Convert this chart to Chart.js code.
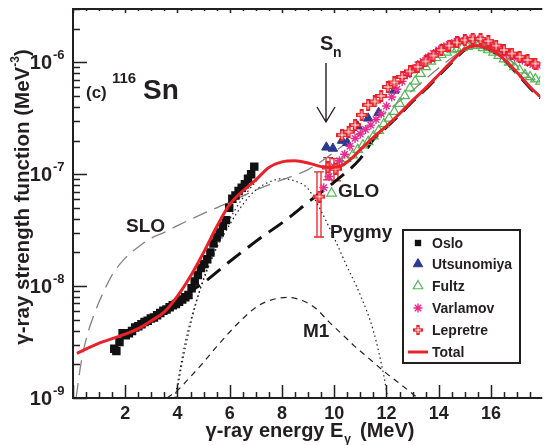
<!DOCTYPE html>
<html>
  <head>
    <title>116Sn gamma-ray strength function</title>
    <script src="https://cdn.jsdelivr.net/npm/chart.js@4.4.1/dist/chart.umd.min.js"></script>
    <style>
      body { margin: 0; background: #fff; }
    </style>
  </head>
  <body>
    <canvas id="canvas" width="547" height="445"></canvas>
    <script>
      // --- data (E in MeV, f in MeV^-3) ---
      const osloE = [1.58, 1.66, 1.78, 1.90, 2.02, 2.14, 2.26, 2.38, 2.50, 2.62, 2.74, 2.86, 2.98, 3.10, 3.22, 3.34,
        3.46, 3.58, 3.70, 3.82, 3.94, 4.06, 4.18, 4.30, 4.42, 4.54, 4.66, 4.78, 4.90, 5.02, 5.14, 5.26, 5.38, 5.50,
        5.62, 5.74, 5.86, 5.98, 6.10, 6.22, 6.34, 6.46, 6.58, 6.70, 6.82, 6.94];
      const osloF = [2.75e-9, 2.63e-9, 3.16e-9, 3.80e-9, 3.63e-9, 3.80e-9, 3.98e-9, 4.27e-9, 4.37e-9, 4.57e-9, 4.79e-9,
        4.90e-9, 5.13e-9, 5.25e-9, 5.50e-9, 5.75e-9, 6.03e-9, 6.17e-9, 6.46e-9, 6.76e-9, 6.92e-9, 7.24e-9, 7.59e-9,
        7.94e-9, 8.32e-9, 9.55e-9, 1.10e-8, 1.26e-8, 1.45e-8, 1.58e-8, 1.74e-8, 2.00e-8, 2.40e-8, 2.75e-8, 3.02e-8,
        3.47e-8, 3.89e-8, 5.01e-8, 6.03e-8, 6.46e-8, 7.08e-8, 7.59e-8, 8.13e-8, 9.12e-8, 1.00e-7, 1.17e-7];

      const utsuE = [9.7, 9.95, 10.3, 10.5, 10.9, 11.3, 11.7, 12.3];
      const utsuF = [1.74e-7, 1.70e-7, 2.00e-7, 1.91e-7, 2.69e-7, 3.16e-7, 3.55e-7, 5.62e-7];

      const fultzE = [9.9, 10.2, 10.45, 10.7, 10.9, 11.1, 11.3, 11.5, 11.7, 11.9, 12.1, 12.3, 12.5, 12.7, 12.9, 13.1,
        13.3, 13.5, 13.7, 13.9, 14.1, 14.3, 14.5, 14.7, 14.9, 15.1, 15.3, 15.5, 15.7, 15.9, 16.1, 16.3, 16.5, 16.7,
        16.9, 17.1, 17.3, 17.5, 17.7, 17.9];
      const fultzF = [6.76e-8, 1.26e-7, 1.38e-7, 1.48e-7, 1.66e-7, 1.82e-7, 1.95e-7, 2.19e-7, 2.45e-7, 2.82e-7, 3.16e-7,
        3.63e-7, 4.27e-7, 5.01e-7, 5.89e-7, 6.76e-7, 7.94e-7, 9.12e-7, 1.02e-6, 1.10e-6, 1.17e-6, 1.23e-6, 1.29e-6,
        1.32e-6, 1.35e-6, 1.38e-6, 1.41e-6, 1.41e-6, 1.35e-6, 1.29e-6, 1.23e-6, 1.15e-6, 1.07e-6, 1.00e-6, 9.12e-7,
        8.51e-7, 7.76e-7, 7.41e-7, 7.08e-7, 6.76e-7];

      const varlE = [9.6, 9.8, 10.0, 10.2, 10.4, 10.6, 10.8, 11.0, 11.2, 11.4, 11.6, 11.8, 12.0, 12.2, 12.4, 12.6, 12.8,
        13.0, 13.2, 13.4, 13.6, 13.8, 14.0, 14.2, 14.4, 14.6, 14.8, 15.0, 15.2, 15.4, 15.6, 15.8, 16.0, 16.2, 16.4,
        16.6, 16.8, 17.0, 17.2, 17.4, 17.6, 17.8];
      const varlF = [7.59e-8, 9.55e-8, 1.17e-7, 1.32e-7, 1.51e-7, 1.78e-7, 2.09e-7, 2.29e-7, 2.51e-7, 2.75e-7, 3.09e-7,
        3.47e-7, 4.07e-7, 4.90e-7, 5.75e-7, 6.76e-7, 7.76e-7, 8.71e-7, 9.55e-7, 1.02e-6, 1.12e-6, 1.20e-6, 1.29e-6,
        1.38e-6, 1.45e-6, 1.51e-6, 1.55e-6, 1.58e-6, 1.62e-6, 1.62e-6, 1.62e-6, 1.51e-6, 1.41e-6, 1.32e-6, 1.26e-6,
        1.20e-6, 1.15e-6, 1.10e-6, 1.05e-6, 1.00e-6, 9.55e-7, 9.33e-7];

      const leprE = [9.43, 9.75, 10.05, 10.3, 10.55, 10.8, 11.05, 11.3, 11.55, 11.8, 12.05, 12.3, 12.6, 12.9, 13.2, 13.5,
        13.8, 14.1, 14.4, 14.7, 15.0, 15.3, 15.6, 15.9, 16.2, 16.5, 16.8, 17.1, 17.4, 17.7];
      const leprF = [6.31e-8, 1.15e-7, 1.12e-7, 2.24e-7, 2.40e-7, 2.75e-7, 3.39e-7, 4.17e-7, 4.47e-7, 5.01e-7, 6.03e-7,
        6.61e-7, 7.41e-7, 8.32e-7, 9.12e-7, 1.02e-6, 1.15e-6, 1.29e-6, 1.41e-6, 1.51e-6, 1.58e-6, 1.62e-6, 1.62e-6,
        1.55e-6, 1.41e-6, 1.29e-6, 1.20e-6, 1.12e-6, 1.05e-6, 9.77e-7];
      // error bars only where they show
      const leprLo = [2.75e-8, 8.91e-8, 8.71e-8];
      const leprHi = [1.05e-7, 1.41e-7, 1.38e-7];

      const totalE = [0.15, 1.0, 2.0, 2.5, 3.0, 3.5, 4.0, 4.5, 5.0, 5.5, 6.0, 6.5, 7.0, 7.5, 8.0, 8.5, 9.0, 9.5, 9.9,
        10.3, 10.7, 11.0, 11.5, 12.0, 12.5, 13.0, 13.5, 14.0, 14.5, 15.0, 15.4, 16.0, 16.5, 17.0, 17.5, 17.9];
      const totalF = [2.51e-9, 3.09e-9, 3.72e-9, 4.17e-9, 4.90e-9, 5.89e-9, 8.13e-9, 1.23e-8, 2.00e-8, 3.39e-8, 5.37e-8,
        7.08e-8, 8.91e-8, 1.15e-7, 1.29e-7, 1.32e-7, 1.26e-7, 1.17e-7, 1.15e-7, 1.20e-7, 1.41e-7, 1.66e-7, 2.14e-7,
        2.69e-7, 3.47e-7, 4.57e-7, 5.89e-7, 7.76e-7, 1.02e-6, 1.32e-6, 1.41e-6, 1.30e-6, 1.07e-6, 8.13e-7, 6.03e-7,
        4.90e-7];

      const sloE = [0.12, 0.3, 0.53, 0.8, 1.0, 1.5, 2.0, 2.5, 3.0, 3.5, 4.0, 5.0, 6.0, 7.0, 8.0, 9.0, 10.0, 11.0, 12.0,
        13.0, 14.0, 15.0, 15.4, 16.0, 17.0, 17.9];
      const sloF = [1.0e-9, 2.0e-9, 3.55e-9, 5.50e-9, 7.24e-9, 1.26e-8, 1.78e-8, 2.24e-8, 2.69e-8, 3.02e-8, 3.47e-8,
        4.47e-8, 5.62e-8, 7.24e-8, 8.91e-8, 1.10e-7, 1.58e-7, 2.40e-7, 3.63e-7, 5.62e-7, 8.91e-7, 1.32e-6, 1.45e-6,
        1.35e-6, 9.33e-7, 6.03e-7];

      const gloE = [4.3, 4.87, 6.0, 7.0, 8.2, 9.0, 10.0, 11.0, 11.5, 12.0, 12.5, 13.0, 13.5, 14.0, 14.5, 15.0, 15.4,
        16.0, 16.5, 17.0, 17.5, 17.9];
      const gloF = [8.51e-9, 1.02e-8, 1.66e-8, 2.51e-8, 3.98e-8, 5.62e-8, 8.51e-8, 1.38e-7, 2.04e-7, 2.63e-7, 3.39e-7,
        4.47e-7, 5.75e-7, 7.59e-7, 1.00e-6, 1.29e-6, 1.38e-6, 1.27e-6, 1.05e-6, 7.94e-7, 5.89e-7, 4.79e-7];

      const m1E = [3.6, 4.0, 4.5, 5.0, 5.5, 6.0, 6.5, 7.0, 7.5, 8.2, 8.8, 9.3, 9.8, 10.3, 10.8, 11.3, 12.0, 12.5, 13.2];
      const m1F = [1.0e-9, 1.17e-9, 1.55e-9, 2.09e-9, 2.88e-9, 3.89e-9, 5.13e-9, 6.46e-9, 7.41e-9, 7.94e-9, 7.41e-9,
        6.31e-9, 4.79e-9, 3.72e-9, 2.88e-9, 2.29e-9, 1.66e-9, 1.35e-9, 1.0e-9];

      const pygE = [3.95, 4.05, 4.3, 4.6, 5.0, 5.5, 6.0, 6.5, 7.0, 7.5, 8.0, 8.5, 9.0, 9.5, 10.0, 10.5, 11.0, 11.5, 11.9,
        12.05];
      const pygF = [1.0e-9, 1.41e-9, 2.82e-9, 5.62e-9, 1.17e-8, 2.19e-8, 3.55e-8, 5.37e-8, 7.24e-8, 8.51e-8, 9.12e-8,
        8.71e-8, 7.41e-8, 4.68e-8, 2.69e-8, 1.48e-8, 8.32e-9, 3.98e-9, 1.58e-9, 1.0e-9];

      // second dotted curve on the low-energy side
      const dotE = [3.9, 4.3, 4.7, 5.2, 5.7, 6.2, 6.7, 7.1];
      const dotF = [1.0e-9, 3.16e-9, 7.08e-9, 1.51e-8, 2.88e-8, 4.79e-8, 7.08e-8, 9.12e-8];

      const xTicks = [2, 4, 6, 8, 10, 12, 14, 16];
      const yDecades = [1e-9, 1e-8, 1e-7, 1e-6];

      const FONT = "'Liberation Sans', Arial, Helvetica, sans-serif";
      const INK = '#231f20';
      const RED = '#ea2128';

      const pts = (xs, ys) => xs.map((x, i) => ({ x: x, y: ys[i] }));

      // Lepretre open cross
      function plusMark(size) {
        const c = document.createElement('canvas');
        c.width = c.height = size;
        const g = c.getContext('2d');
        const a = size / 3;
        g.fillStyle = RED;
        g.fillRect(a, 0, a, size);
        g.fillRect(0, a, size, a);
        g.strokeStyle = '#fff';
        g.lineWidth = 1;
        g.beginPath();
        g.moveTo(size / 2, 2); g.lineTo(size / 2, size - 2);
        g.moveTo(2, size / 2); g.lineTo(size - 2, size / 2);
        g.stroke();
        return c;
      }
      const crossImg = plusMark(12);
      const crossSmall = plusMark(10);

      const markers = {
        oslo: { pointStyle: 'rect', radius: 6, fill: '#111', stroke: '#111', bw: 0 },
        utsu: { pointStyle: 'triangle', radius: 5.5, fill: '#2b3990', stroke: '#2b3990', bw: 1 },
        fultz: { pointStyle: 'triangle', radius: 5.5, fill: 'rgba(0,0,0,0)', stroke: '#56b556', bw: 1.2 },
        varl: { pointStyle: 'star', radius: 4.5, fill: '#ec2a90', stroke: '#ec2a90', bw: 1.4 },
      };

      function scatterSet(label, data, m, order) {
        return {
          label: label, data: data, order: order, showLine: false,
          pointStyle: m.pointStyle, pointRadius: m.radius, pointBackgroundColor: m.fill,
          pointBorderColor: m.stroke, pointBorderWidth: m.bw, pointHoverRadius: m.radius,
        };
      }
      function curveSet(label, data, color, width, dash, order) {
        return {
          label: label, data: data, order: order, showLine: true, pointRadius: 0,
          borderColor: color, borderWidth: width, borderDash: dash,
          cubicInterpolationMode: 'monotone', fill: false,
        };
      }

      const extras = {
        id: 'extras',
        beforeDatasetsDraw(chart) {
          const { ctx, scales: { x, y } } = chart;
          ctx.save();
          ctx.strokeStyle = RED;
          ctx.lineWidth = 1.3;
          leprLo.forEach((lo, i) => {
            const px = Math.round(x.getPixelForValue(leprE[i]));
            const y0 = y.getPixelForValue(lo), y1 = y.getPixelForValue(leprHi[i]);
            ctx.beginPath();
            ctx.moveTo(px - 2, y0); ctx.lineTo(px - 2, y1);
            ctx.moveTo(px + 2, y0); ctx.lineTo(px + 2, y1);
            ctx.moveTo(px - 5, y0); ctx.lineTo(px + 5, y0);
            ctx.moveTo(px - 5, y1); ctx.lineTo(px + 5, y1);
            ctx.stroke();
          });
          ctx.restore();
        },
        afterDraw(chart) {
          const { ctx, chartArea: a, scales: { x, y } } = chart;
          ctx.save();
          // frame
          ctx.strokeStyle = INK;
          ctx.lineWidth = 2;
          ctx.beginPath();
          ctx.moveTo(a.right + 2, a.top); ctx.lineTo(a.left, a.top);
          ctx.lineTo(a.left, a.bottom); ctx.lineTo(a.right + 2, a.bottom);
          ctx.stroke();

          // x ticks (bottom inward, top small)
          ctx.lineWidth = 1.5;
          ctx.beginPath();
          for (let v = 0; v <= x.max; v += 0.5) {
            const px = Math.round(x.getPixelForValue(v)) + 0.5;
            const major = v % 2 === 0;
            ctx.moveTo(px, a.bottom); ctx.lineTo(px, a.bottom - (major ? 13 : 6));
            ctx.moveTo(px, a.top); ctx.lineTo(px, a.top + (major ? 4 : 2));
          }
          // y ticks
          yDecades.forEach((d) => {
            for (let k = 1; k <= 9; k++) {
              const v = d * k;
              if (v > y.max) break;
              const py = Math.round(y.getPixelForValue(v)) + 0.5;
              ctx.moveTo(a.left, py); ctx.lineTo(a.left + (k === 1 ? 14 : 7), py);
            }
          });
          ctx.stroke();

          ctx.fillStyle = INK;
          ctx.textBaseline = 'alphabetic';
          // y tick labels 10^n
          yDecades.forEach((d) => {
            const py = y.getPixelForValue(d);
            const ex = Math.round(Math.log10(d));
            ctx.font = 'bold 20px ' + FONT;
            ctx.textAlign = 'right';
            ctx.fillText('10', 52, py + 7);
            ctx.font = 'bold 13px ' + FONT;
            ctx.textAlign = 'left';
            ctx.fillText(String(ex), 53, py - 3);
          });

          // x axis title
          ctx.font = 'bold 20px ' + FONT;
          const t1 = '\u03b3-ray energy E', t2 = '(MeV)';
          const w1 = ctx.measureText(t1).width, w2 = ctx.measureText(t2).width;
          ctx.font = 'bold 12px ' + FONT;
          const ws = ctx.measureText('\u03b3').width;
          let tx = 310 - (w1 + ws + 10 + w2) / 2;
          ctx.textAlign = 'left';
          ctx.font = 'bold 20px ' + FONT;
          ctx.fillText(t1, tx, 437);
          ctx.font = 'bold 12px ' + FONT;
          ctx.fillText('\u03b3', tx + w1 + 1, 443);
          ctx.font = 'bold 20px ' + FONT;
          ctx.fillText(t2, tx + w1 + ws + 10, 437);

          // y axis title (rotated)
          ctx.save();
          ctx.translate(29, 197);
          ctx.rotate(-Math.PI / 2);
          const y1 = '\u03b3-ray strength function (MeV', y3 = ')';
          ctx.font = 'bold 12px ' + FONT;
          const wsup = ctx.measureText('-3').width;
          ctx.font = 'bold 20.5px ' + FONT;
          const wy1 = ctx.measureText(y1).width, wy3 = ctx.measureText(y3).width;
          let ty = -(wy1 + wsup + wy3) / 2;
          ctx.fillText(y1, ty, 0);
          ctx.font = 'bold 12px ' + FONT;
          ctx.fillText('-3', ty + wy1, -10);
          ctx.font = 'bold 20.5px ' + FONT;
          ctx.fillText(y3, ty + wy1 + wsup, 0);
          ctx.restore();

          // panel label
          ctx.font = 'bold 17px ' + FONT;
          ctx.fillText('(c)', 86, 98);
          ctx.font = 'bold 15px ' + FONT;
          ctx.fillText('116', 112, 83);
          ctx.font = 'bold 28px ' + FONT;
          ctx.fillText('Sn', 143, 99);

          // curve labels
          ctx.font = 'bold 19px ' + FONT;
          ctx.fillText('SLO', 126, 232);
          ctx.fillText('GLO', 338, 197);
          ctx.fillText('Pygmy', 330, 238);
          ctx.fillText('M1', 303, 337);

          // S_n arrow
          ctx.font = 'bold 20px ' + FONT;
          ctx.fillText('S', 320, 50);
          ctx.font = 'bold 14px ' + FONT;
          ctx.fillText('n', 333, 57);
          ctx.strokeStyle = INK;
          ctx.lineWidth = 1.4;
          ctx.beginPath();
          ctx.moveTo(326, 63); ctx.lineTo(326, 122);
          ctx.moveTo(317, 107); ctx.lineTo(326, 122); ctx.lineTo(335, 107);
          ctx.stroke();

          // legend box
          const lx = 403, ly = 230, lw = 117, lh = 133;
          ctx.fillStyle = '#fff';
          ctx.fillRect(lx, ly, lw, lh);
          ctx.lineWidth = 2;
          ctx.strokeRect(lx, ly, lw, lh);
          const rows = [
            ['Oslo', { pointStyle: 'rect', radius: 4.5, fill: '#111', stroke: '#111', bw: 0 }],
            ['Utsunomiya', markers.utsu],
            ['Fultz', markers.fultz],
            ['Varlamov', markers.varl],
            ['Lepretre', { pointStyle: crossSmall }],
            ['Total', null],
          ];
          const rowY = [243, 264, 286, 308, 330, 352];
          rows.forEach((r, i) => {
            const cy = rowY[i];
            if (r[1]) {
              ctx.fillStyle = r[1].fill || RED;
              ctx.strokeStyle = r[1].stroke || RED;
              ctx.lineWidth = r[1].bw || 1;
              Chart.helpers.drawPoint(ctx, { pointStyle: r[1].pointStyle, radius: r[1].radius || 5, rotation: 0, borderWidth: r[1].bw || 0 }, 418, cy);
            } else {
              ctx.strokeStyle = RED;
              ctx.lineWidth = 3;
              ctx.beginPath(); ctx.moveTo(408, cy); ctx.lineTo(428, cy); ctx.stroke();
            }
            ctx.fillStyle = INK;
            ctx.font = 'bold 14px ' + FONT;
            ctx.textAlign = 'left';
            ctx.fillText(r[0], 432, cy + 5);
          });
          ctx.restore();
        },
      };

      window.onload = () => {
        const ctx = document.getElementById('canvas').getContext('2d');
        new Chart(ctx, {
          type: 'scatter',
          data: {
            datasets: [
              curveSet('Total', pts(totalE, totalF), RED, 3, [], 0),
              scatterSet('Lepretre', pts(leprE, leprF), { pointStyle: crossImg, radius: 6, fill: RED, stroke: RED, bw: 0 }, 1),
              scatterSet('Varlamov', pts(varlE, varlF), markers.varl, 2),
              scatterSet('Fultz', pts(fultzE, fultzF), markers.fultz, 3),
              scatterSet('Utsunomiya', pts(utsuE, utsuF), markers.utsu, 4),
              scatterSet('Oslo', pts(osloE, osloF), markers.oslo, 5),
              curveSet('GLO', pts(gloE, gloF), '#111', 3, [17, 9], 6),
              curveSet('SLO', pts(sloE, sloF), '#7f8385', 1.3, [15, 8], 7),
              curveSet('Pygmy', pts(pygE, pygF), '#222', 1.2, [1.5, 3], 8),
              curveSet('', pts(dotE, dotF), '#222', 1.2, [1.5, 3], 9),
              curveSet('M1', pts(m1E, m1F), '#222', 1.2, [6, 5], 10),
            ],
          },
          options: {
            responsive: false,
            animation: false,
            layout: { padding: { top: 9, right: 0, left: 0, bottom: 0 } },
            plugins: { legend: { display: false }, tooltip: { enabled: false } },
            scales: {
              x: {
                type: 'linear', min: 0, max: 17.89,
                grid: { display: false, drawTicks: false },
                border: { display: false },
                afterBuildTicks: (s) => { s.ticks = xTicks.map((v) => ({ value: v })); },
                ticks: { color: INK, padding: 5, maxRotation: 0, autoSkip: false, font: { family: FONT, size: 18, weight: 'bold' } },
                afterFit: (s) => { s.height = 47; },
              },
              y: {
                type: 'logarithmic', min: 1e-9, max: 3e-6,
                grid: { display: false, drawTicks: false },
                border: { display: false },
                ticks: { display: false },
                afterFit: (s) => { s.width = 73; },
              },
            },
          },
          plugins: [extras],
        });
      };
    </script>
  </body>
</html>
